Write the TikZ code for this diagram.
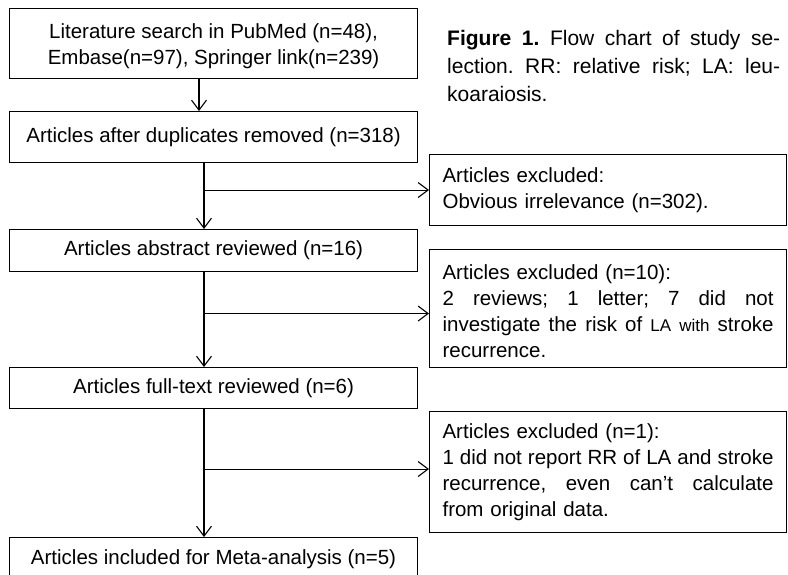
\documentclass[tikz,border=0pt]{standalone}
\usepackage{fontspec}
\setmainfont{Liberation Sans}
\usetikzlibrary{arrows.meta}
\frenchspacing

\newcommand\flowsize{\fontsize{20.5pt}{26pt}\selectfont}
\newcommand\capsize{\fontsize{21pt}{28pt}\selectfont}
% one justified line of a given width
\newcommand\fillline[2]{\makebox[#1][s]{\spaceskip=.278em plus 1fil\relax #2}}

\tikzset{
  stagebox/.style={draw,line width=1.1pt,minimum width=408pt,inner sep=0pt,
    align=center,font=\flowsize,anchor=north west},
  exclbox/.style={draw,line width=1.1pt,text width=331pt,inner xsep=13pt,
    inner ysep=0pt,align=left,font=\flowsize,anchor=north west},
  flow/.style={-{Straight Barb[length=10pt,width=15pt]},line width=1.1pt}
}

\begin{document}
\begin{tikzpicture}[x=1pt,y=-1pt]
  \useasboundingbox (0,0) rectangle (788,574);

  %STAGES (left column)
  \node[stagebox,minimum height=70pt] (lit) at (9,8)
    {\rule{0pt}{21pt}Literature search in PubMed (n=48),\\Embase(n=97), Springer link(n=239)};
  \node[stagebox,minimum height=51pt] (dup) at (9,111)
    {Articles after duplicates removed (n=318)};
  \node[stagebox,minimum height=42pt] (abs) at (9,229)
    {Articles abstract reviewed (n=16)};
  \node[stagebox,minimum height=41pt] (full) at (9,367)
    {Articles full-text reviewed (n=6)};
  \node[stagebox,minimum height=44pt] (meta) at (9,537)
    {Articles included for Meta-analysis (n=5)};

  %EXCLUDED (right column)
  \node[exclbox,minimum height=71pt] (ex1) at (429,154)
    {Articles excluded:\\Obvious irrelevance (n=302).};
  \node[exclbox,minimum height=118pt] (ex2) at (429,249)
    {\rule{0pt}{21pt}Articles excluded (n=10):\\
     \fillline{331pt}{2 reviews; 1 letter; 7 did not}\\
     \fillline{331pt}{investigate the risk of {\fontsize{17pt}{26pt}\selectfont LA with} stroke}\\
     recurrence.};
  \node[exclbox,minimum height=121pt] (ex3) at (429,411)
    {Articles excluded (n=1):\\
     \fillline{331pt}{1 did not report RR of LA and stroke}\\
     \fillline{331pt}{recurrence, even can’t calculate}\\
     from original data.};

  %CAPTION
  \node[anchor=north west,inner sep=0pt,align=left,font=\capsize] (cap) at (447,30)
    {\fillline{333pt}{\textbf{Figure 1.} Flow chart of study se-}\\
     \fillline{333pt}{lection. RR: relative risk; LA: leu-}\\
     koaraiosis.};

  %ARROWS
  \coordinate (trunkA) at (199,0);
  \coordinate (trunkB) at (204,0);
  \coordinate (ex2in) at ([yshift=-5pt]ex2.west);
  \coordinate (ex3in) at ([yshift=3pt]ex3.west);
  \draw[flow] (lit.south -| trunkA) -- (dup.north -| trunkA);
  \draw[flow] (dup.south -| trunkB) -- (abs.north -| trunkB);
  \draw[flow] (abs.south -| trunkB) -- (full.north -| trunkB);
  \draw[flow] (full.south -| trunkB) -- (meta.north -| trunkB);
  \draw[flow] (trunkB |- ex1.west) -- (ex1.west);
  \draw[flow] (trunkB |- ex2in) -- (ex2in);
  \draw[flow] (trunkB |- ex3in) -- (ex3in);
\end{tikzpicture}
\end{document}
